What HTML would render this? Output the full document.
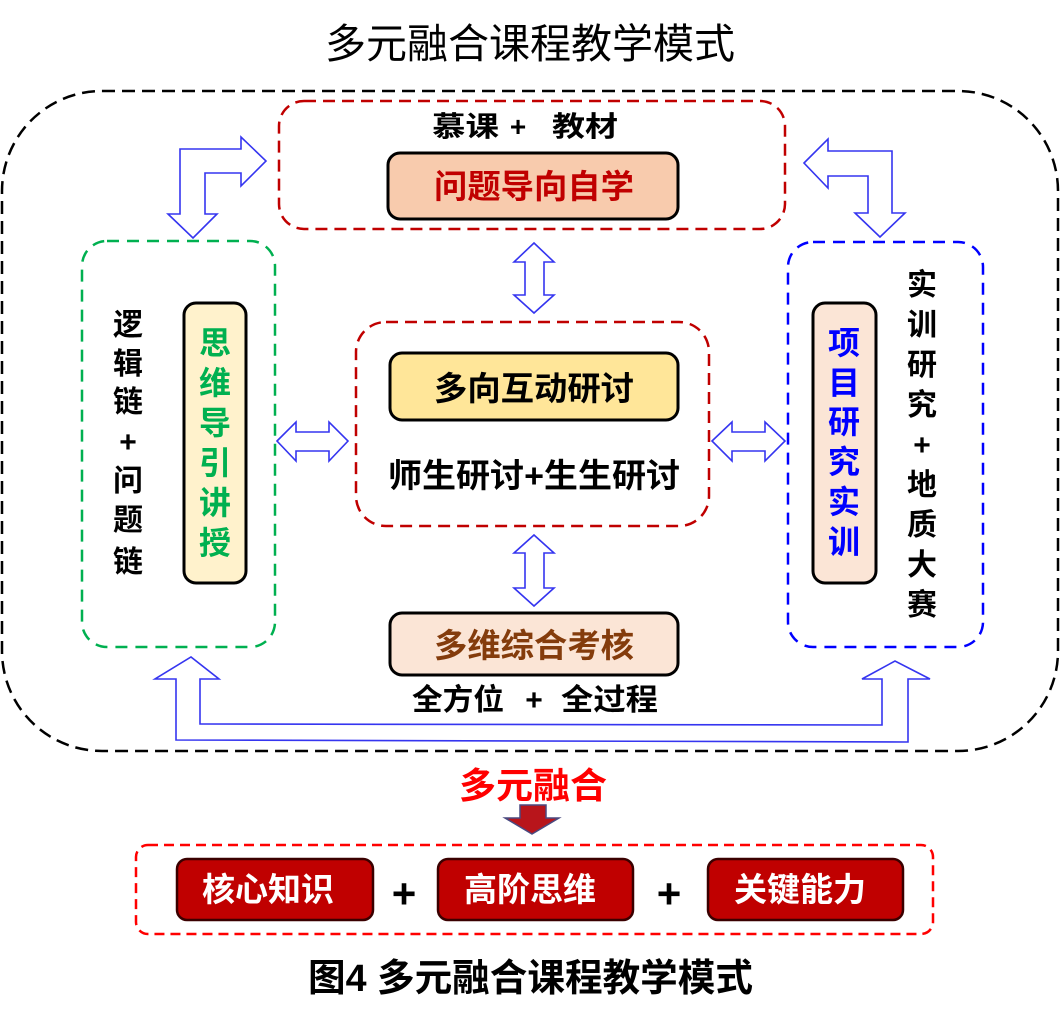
<!DOCTYPE html>
<html>
<head>
<meta charset="utf-8">
<style>
  html, body { margin:0; padding:0; background:#fff; }
  svg { display:block; }
  text { font-family: "Liberation Sans", "Noto Sans CJK SC", sans-serif; }
</style>
</head>
<body>
<svg width="1062" height="1023" viewBox="0 0 1062 1023" xmlns="http://www.w3.org/2000/svg">
  <rect width="1062" height="1023" fill="#fff"/>

  <!-- Title -->
  <text x="325" y="58" font-size="41" fill="#000" textLength="410" lengthAdjust="spacingAndGlyphs">多元融合课程教学模式</text>

  <!-- Outer black dashed -->
  <rect x="2" y="91" width="1056" height="660" rx="100" ry="100" fill="none" stroke="#000" stroke-width="2.5" stroke-dasharray="13 7"/>

  <!-- Top red dashed box -->
  <rect x="279" y="101" width="506" height="128" rx="25" ry="25" fill="none" stroke="#c00000" stroke-width="2.5" stroke-dasharray="12 7"/>
  <text x="432" y="136" font-size="28" font-weight="bold" fill="#000" textLength="67" lengthAdjust="spacingAndGlyphs">慕课</text>
  <text x="518" y="136" font-size="28" font-weight="bold" fill="#000" text-anchor="middle">+</text>
  <text x="552" y="136" font-size="28" font-weight="bold" fill="#000" textLength="66" lengthAdjust="spacingAndGlyphs">教材</text>
  <rect x="388" y="153" width="290" height="66" rx="12" ry="12" fill="#f8cbad" stroke="#000" stroke-width="3"/>
  <text x="434" y="198" font-size="33" font-weight="bold" fill="#c00000" textLength="200" lengthAdjust="spacingAndGlyphs">问题导向自学</text>

  <!-- Middle red dashed box -->
  <rect x="356" y="322" width="353" height="204" rx="30" ry="30" fill="none" stroke="#c00000" stroke-width="2.5" stroke-dasharray="12 7"/>
  <rect x="390" y="353" width="288" height="67" rx="12" ry="12" fill="#ffe699" stroke="#000" stroke-width="3"/>
  <text x="434" y="400" font-size="33" font-weight="bold" fill="#000" textLength="200" lengthAdjust="spacingAndGlyphs">多向互动研讨</text>
  <text x="388" y="487" font-size="33" font-weight="bold" fill="#000" textLength="292" lengthAdjust="spacingAndGlyphs">师生研讨+生生研讨</text>

  <!-- Bottom assessment -->
  <rect x="390" y="613" width="288" height="62" rx="12" ry="12" fill="#fbe5d6" stroke="#000" stroke-width="3"/>
  <text x="434" y="657" font-size="33" font-weight="bold" fill="#843c0c" textLength="200" lengthAdjust="spacingAndGlyphs">多维综合考核</text>
  <text x="412" y="710" font-size="30" font-weight="bold" fill="#000" textLength="92" lengthAdjust="spacingAndGlyphs">全方位</text>
  <text x="534" y="710" font-size="30" font-weight="bold" fill="#000" text-anchor="middle">+</text>
  <text x="561" y="710" font-size="30" font-weight="bold" fill="#000" textLength="97" lengthAdjust="spacingAndGlyphs">全过程</text>

  <!-- Left green box -->
  <rect x="82" y="241" width="193" height="406" rx="25" ry="25" fill="none" stroke="#00b050" stroke-width="2.5" stroke-dasharray="12 8"/>
  <g font-size="30" font-weight="bold" fill="#000" text-anchor="middle">
    <text x="128" y="335">逻</text>
    <text x="128" y="374">辑</text>
    <text x="128" y="412">链</text>
    <text x="128" y="452">+</text>
    <text x="128" y="491">问</text>
    <text x="128" y="530">题</text>
    <text x="128" y="572">链</text>
  </g>
  <rect x="184" y="303" width="62" height="280" rx="12" ry="12" fill="#fff2cc" stroke="#000" stroke-width="3"/>
  <g font-size="32" font-weight="bold" fill="#00b050" text-anchor="middle">
    <text x="215" y="354">思</text>
    <text x="215" y="394">维</text>
    <text x="215" y="434">导</text>
    <text x="215" y="474">引</text>
    <text x="215" y="514">讲</text>
    <text x="215" y="554">授</text>
  </g>

  <!-- Right blue box -->
  <rect x="788" y="242" width="195" height="405" rx="25" ry="25" fill="none" stroke="#0000ff" stroke-width="2.5" stroke-dasharray="12 8"/>
  <rect x="813" y="303" width="63" height="280" rx="12" ry="12" fill="#fbe5d6" stroke="#000" stroke-width="3"/>
  <g font-size="32" font-weight="bold" fill="#0000ff" text-anchor="middle">
    <text x="844" y="354">项</text>
    <text x="844" y="394">目</text>
    <text x="844" y="433">研</text>
    <text x="844" y="473">究</text>
    <text x="844" y="513">实</text>
    <text x="844" y="553">训</text>
  </g>
  <g font-size="30" font-weight="bold" fill="#000" text-anchor="middle">
    <text x="922" y="295">实</text>
    <text x="922" y="335">训</text>
    <text x="922" y="375">研</text>
    <text x="922" y="415">究</text>
    <text x="922" y="455">+</text>
    <text x="922" y="495">地</text>
    <text x="922" y="535">质</text>
    <text x="922" y="575">大</text>
    <text x="922" y="615">赛</text>
  </g>

  <!-- Blue outlined arrows -->
  <g fill="#fff" stroke="#3535f0" stroke-width="1.6" stroke-linejoin="miter">
    <polygon points="180,214 180,149 241,149 241,137 266,161 241,186 241,173 205,173 205,214 217,214 193,238 168,214"/>
    <polygon points="804,163 828,139 828,151 892,151 892,213 905,213 880,237 855,213 868,213 868,176 828,176 828,188"/>
    <polygon points="534,243 554,262 544,262 544,295 554,295 534,313 514,295 525,295 525,262 514,262"/>
    <polygon points="534,535 554,553 544,553 544,588 554,588 534,606 514,588 525,588 525,553 514,553"/>
    <polygon points="277,441 296,422 296,432 329,432 329,422 348,441 329,461 329,451 296,451 296,461"/>
    <polygon points="712,441 732,422 732,432 765,432 765,422 785,441 765,461 765,451 732,451 732,461"/>
    <polygon points="176,740 176,679 155,679 191,657 219,679 200,679 200,724 882,725 882,679 862,679 895,661 930,679 908,679 908,742"/>
  </g>

  <!-- 多元融合 -->
  <text x="459" y="798" font-size="36" font-weight="bold" fill="#ff0000" textLength="148" lengthAdjust="spacingAndGlyphs">多元融合</text>
  <polygon points="520,805 546,805 546,818 559,818 532,834 505,818 520,818" fill="#b8151b" stroke="#4a4a80" stroke-width="1.5"/>

  <!-- Bottom red dashed box -->
  <rect x="136" y="845" width="797" height="89" rx="12" ry="12" fill="none" stroke="#ff0000" stroke-width="2.5" stroke-dasharray="10 6"/>
  <rect x="177" y="859" width="196" height="61" rx="10" ry="10" fill="#c00000" stroke="#3a0000" stroke-width="2.5"/>
  <rect x="438" y="859" width="195" height="61" rx="10" ry="10" fill="#c00000" stroke="#3a0000" stroke-width="2.5"/>
  <rect x="708" y="859" width="195" height="61" rx="10" ry="10" fill="#c00000" stroke="#3a0000" stroke-width="2.5"/>
  <g font-size="33" font-weight="bold" fill="#fff" text-anchor="middle">
    <text x="268" y="901">核心知识</text>
    <text x="530" y="901">高阶思维</text>
    <text x="800" y="901">关键能力</text>
  </g>
  <g font-size="42" font-weight="bold" fill="#000" text-anchor="middle">
    <text x="404" y="908">+</text>
    <text x="669" y="908">+</text>
  </g>

  <!-- Caption -->
  <text x="308" y="991" font-size="38" font-weight="bold" fill="#000" textLength="445" lengthAdjust="spacingAndGlyphs">图4 多元融合课程教学模式</text>
</svg>
</body>
</html>
